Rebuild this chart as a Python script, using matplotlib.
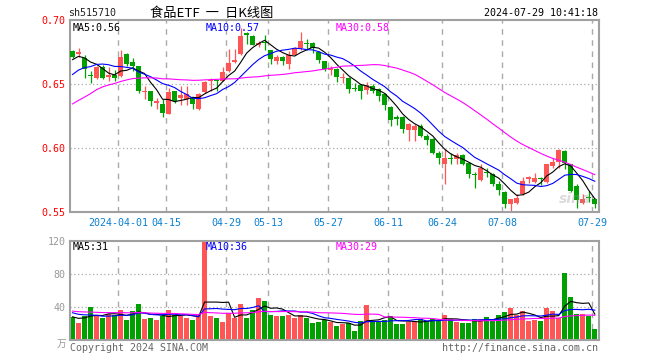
import numpy as np
import pandas as pd
import matplotlib
matplotlib.use('Agg')
import matplotlib.pyplot as plt

# daily candles, 2024-03-20 .. 2024-07-29 (88 trading days)
opens = [0.6756, 0.6735, 0.6704, 0.6568, 0.6548, 0.6633, 0.6553, 0.6568, 0.6560, 0.6735,
         0.6670, 0.6639, 0.6441, 0.6444, 0.6350, 0.6345, 0.6267, 0.6444, 0.6392, 0.6384,
         0.6392, 0.6306, 0.6438, 0.6522, 0.6532, 0.6527, 0.6600, 0.6672, 0.6735, 0.6899,
         0.6873, 0.6808, 0.6828, 0.6763, 0.6678, 0.6709, 0.6657, 0.6730, 0.6782, 0.6823,
         0.6820, 0.6748, 0.6678, 0.6613, 0.6620, 0.6548, 0.6548, 0.6469, 0.6490, 0.6457,
         0.6483, 0.6462, 0.6423, 0.6319, 0.6241, 0.6241, 0.6137, 0.6137, 0.6171, 0.6093,
         0.6074, 0.5963, 0.5872, 0.5924, 0.5911, 0.5944, 0.5882, 0.5799, 0.5747, 0.5814,
         0.5799, 0.5716, 0.5658, 0.5559, 0.5572, 0.5638, 0.5755, 0.5736, 0.5768, 0.5736,
         0.5856, 0.5892, 0.5976, 0.5872, 0.5703, 0.5567, 0.5617, 0.5598]
highs = [0.6763, 0.6782, 0.6724, 0.6600, 0.6639, 0.6652, 0.6631, 0.6612, 0.6769, 0.6743,
         0.6704, 0.6639, 0.6483, 0.6449, 0.6392, 0.6379, 0.6470, 0.6449, 0.6483, 0.6483,
         0.6400, 0.6431, 0.6522, 0.6548, 0.6535, 0.6631, 0.6774, 0.6776, 0.6938, 0.6906,
         0.6880, 0.6839, 0.6886, 0.6769, 0.6724, 0.6717, 0.6761, 0.6787, 0.6906, 0.6854,
         0.6828, 0.6756, 0.6683, 0.6639, 0.6626, 0.6584, 0.6553, 0.6506, 0.6501, 0.6516,
         0.6501, 0.6470, 0.6431, 0.6326, 0.6256, 0.6248, 0.6197, 0.6184, 0.6189, 0.6106,
         0.6080, 0.5976, 0.5989, 0.5963, 0.5963, 0.5950, 0.5893, 0.5815, 0.5877, 0.5846,
         0.5807, 0.5742, 0.5664, 0.5585, 0.5637, 0.5773, 0.5781, 0.5807, 0.5773, 0.5877,
         0.5924, 0.5989, 0.5981, 0.5877, 0.5716, 0.5637, 0.5663, 0.5611]
lows = [0.6706, 0.6709, 0.6548, 0.6509, 0.6542, 0.6540, 0.6522, 0.6522, 0.6553, 0.6639,
        0.6600, 0.6431, 0.6379, 0.6327, 0.6308, 0.6243, 0.6262, 0.6350, 0.6337, 0.6337,
        0.6308, 0.6300, 0.6431, 0.6449, 0.6449, 0.6522, 0.6594, 0.6665, 0.6730, 0.6813,
        0.6802, 0.6787, 0.6769, 0.6657, 0.6657, 0.6652, 0.6620, 0.6724, 0.6769, 0.6769,
        0.6743, 0.6665, 0.6600, 0.6568, 0.6516, 0.6506, 0.6430, 0.6449, 0.6386, 0.6418,
        0.6431, 0.6371, 0.6300, 0.6170, 0.6183, 0.6119, 0.6054, 0.6054, 0.6085, 0.6020,
        0.5955, 0.5872, 0.5722, 0.5877, 0.5872, 0.5867, 0.5768, 0.5687, 0.5742, 0.5773,
        0.5703, 0.5633, 0.5528, 0.5508, 0.5559, 0.5632, 0.5724, 0.5728, 0.5710, 0.5728,
        0.5846, 0.5846, 0.5836, 0.5659, 0.5533, 0.5559, 0.5575, 0.5528]
closes = [0.6711, 0.6748, 0.6620, 0.6560, 0.6631, 0.6548, 0.6568, 0.6548, 0.6711, 0.6657,
          0.6644, 0.6449, 0.6449, 0.6366, 0.6371, 0.6270, 0.6438, 0.6366, 0.6412, 0.6418,
          0.6345, 0.6423, 0.6516, 0.6535, 0.6522, 0.6594, 0.6665, 0.6688, 0.6873, 0.6886,
          0.6808, 0.6823, 0.6818, 0.6698, 0.6709, 0.6678, 0.6724, 0.6782, 0.6834, 0.6813,
          0.6782, 0.6691, 0.6620, 0.6626, 0.6553, 0.6558, 0.6464, 0.6459, 0.6449, 0.6496,
          0.6449, 0.6405, 0.6334, 0.6215, 0.6230, 0.6145, 0.6189, 0.6168, 0.6093, 0.6059,
          0.5963, 0.5918, 0.5918, 0.5913, 0.5944, 0.5872, 0.5799, 0.5788, 0.5846, 0.5804,
          0.5716, 0.5669, 0.5559, 0.5598, 0.5606, 0.5742, 0.5773, 0.5768, 0.5755, 0.5872,
          0.5892, 0.5983, 0.5885, 0.5664, 0.5591, 0.5598, 0.5606, 0.5559]
# volume, 万手
volumes = [28.3, 21.0, 29.5, 40.4, 30.3, 27.1, 31.1, 30.3, 36.4, 24.2,
           35.2, 43.6, 25.5, 27.1, 24.2, 29.1, 36.4, 30.3, 29.1, 27.1,
           24.2, 30.3, 119.2, 29.1, 27.1, 21.8, 32.3, 27.1, 43.6, 27.1,
           36.4, 51.3, 47.3, 30.3, 29.1, 29.1, 30.3, 27.1, 30.3, 27.1,
           20.2, 22.2, 24.2, 22.2, 17.3, 18.9, 20.2, 11.3, 23.0, 42.4,
           22.2, 23.4, 24.2, 29.1, 19.4, 19.4, 22.2, 22.2, 25.5, 23.0,
           25.5, 24.2, 30.3, 25.5, 22.2, 21.0, 21.0, 25.5, 25.5, 28.3,
           23.0, 30.3, 34.3, 39.1, 30.3, 35.2, 23.0, 24.2, 23.0, 39.1,
           35.2, 26.3, 81.6, 52.0, 31.0, 31.0, 29.1, 13.3]

# earlier sessions (before 03-20), only needed for the moving averages
pre_closes = [0.592, 0.585, 0.575, 0.570, 0.590, 0.612, 0.619, 0.625, 0.629, 0.633,
              0.634, 0.638, 0.636, 0.642, 0.646, 0.644, 0.648, 0.651, 0.646, 0.644,
              0.640, 0.643, 0.648, 0.646, 0.652, 0.662, 0.668, 0.672, 0.672]
pre_volumes = [42, 38, 45, 40, 36, 33, 30, 35, 32, 34,
               36, 33, 38, 31, 35, 37, 34, 39, 36, 36,
               40, 36, 42, 35, 37, 30, 27, 29, 26]

tick_idx = [8, 16, 26, 33, 43, 53, 62, 72, 87]
tick_labels = ['2024-04-01', '04-15', '04-29', '05-13', '05-27', '06-11', '06-24', '07-08', '07-29']

RED = '#ff5555'
GREEN = '#00a000'
GRID = '#aaaaaa'
MA_COLORS = {5: 'black', 10: '#0000ff', 30: '#ff00ff'}

o = np.array(opens); h = np.array(highs); l = np.array(lows); c = np.array(closes)
v = np.array(volumes)
n = len(c)
x = np.arange(n)
npre = len(pre_closes)
all_c = pd.Series(pre_closes + closes)
all_v = pd.Series(pre_volumes + volumes)
ma_p = {k: all_c.rolling(k).mean().values[npre:] for k in (5, 10, 30)}
ma_v = {k: all_v.rolling(k).mean().values[npre:] for k in (5, 10, 30)}

up = c >= o
colors = np.where(up, RED, GREEN)

plt.rcParams['font.family'] = ['DejaVu Sans Mono', 'Noto Sans CJK SC']
fig = plt.figure(figsize=(6.6, 3.6), dpi=100)
W, H = 660, 360
L, R = 70, 599
ax = fig.add_axes([L / W, 1 - 212 / H, (R - L) / W, 192 / H])
axv = fig.add_axes([L / W, 1 - 340 / H, (R - L) / W, 99 / H])

xlim = (-0.42, 87.7)
grid_x = [t - 0.4 for t in tick_idx]

for a in (ax, axv):
    a.set_xlim(*xlim)
    for s in a.spines.values():
        s.set_color('#a0a0a0')
        s.set_linewidth(1.5)
    a.tick_params(length=0)
    for gx in grid_x:
        a.axvline(gx, color=GRID, lw=1, dashes=(4, 4), zorder=0)

# price panel
ax.set_ylim(0.55, 0.70)
for gy in (0.60, 0.65):
    ax.axhline(gy, color=GRID, lw=0.9, ls=(0, (1, 2)), zorder=0)
body_b = np.minimum(o, c)
body_h = np.maximum(np.abs(c - o), 0.0004)
ax.vlines(x, l, h, colors=colors, lw=0.9, zorder=2)
ax.bar(x, body_h, bottom=body_b, width=0.8, color=colors, lw=0, zorder=3)
for k, col in MA_COLORS.items():
    ax.plot(x, ma_p[k], color=col, lw=0.8, zorder=4)
ax.set_yticks([0.55, 0.60, 0.65, 0.70])
ax.set_yticklabels(['0.55', '0.60', '0.65', '0.70'], color='red', fontsize=7.2)
ax.tick_params(axis='y', pad=3)
ax.set_xticks(grid_x)
ax.set_xticklabels(tick_labels, color='#0a80d0', fontsize=7.2)
ax.tick_params(axis='x', pad=4)
ax.text(0.005, 0.985, 'MA5:%.2f' % ma_p[5][-1], transform=ax.transAxes, va='top',
        fontsize=7.2, color=MA_COLORS[5])
ax.text(0.257, 0.985, 'MA10:%.2f' % ma_p[10][-1], transform=ax.transAxes, va='top',
        fontsize=7.2, color=MA_COLORS[10])
ax.text(0.503, 0.985, 'MA30:%.2f' % ma_p[30][-1], transform=ax.transAxes, va='top',
        fontsize=7.2, color=MA_COLORS[30])
ax.text(0.985, 0.03, 'sina', transform=ax.transAxes, ha='right', va='bottom',
        fontsize=10, color='#999999', alpha=0.35, style='italic', weight='bold',
        family='DejaVu Sans')

# volume panel
axv.set_ylim(0, 120)
for gy in (40, 80):
    axv.axhline(gy, color=GRID, lw=0.9, ls=(0, (1, 2)), zorder=0)
axv.bar(x, v, width=0.8, color=colors, lw=0, zorder=2)
for k, col in MA_COLORS.items():
    axv.plot(x, ma_v[k], color=col, lw=0.8, zorder=3)
axv.set_yticks([40, 80, 120])
axv.set_yticklabels(['40', '80', '120'], color='#999999', fontsize=7.2)
axv.tick_params(axis='y', pad=3)
axv.set_xticks([])
axv.text(0.005, 0.985, 'MA5:%d' % int(ma_v[5][-1]), transform=axv.transAxes, va='top',
         fontsize=7.2, color=MA_COLORS[5])
axv.text(0.257, 0.985, 'MA10:%d' % int(ma_v[10][-1]), transform=axv.transAxes, va='top',
         fontsize=7.2, color=MA_COLORS[10])
axv.text(0.503, 0.985, 'MA30:%d' % int(ma_v[30][-1]), transform=axv.transAxes, va='top',
         fontsize=7.2, color=MA_COLORS[30])

# header / footer
fig.text(68 / W, 1 - 13 / H, 'sh515710', fontsize=7.2, va='center', color='#222222')
fig.text(150 / W, 1 - 13 / H, '食品ETF  一  日K线图', fontsize=9.5, va='center',
         family=['Noto Sans CJK SC', 'DejaVu Sans'])
fig.text(598 / W, 1 - 13 / H, '2024-07-29 10:41:18', fontsize=7.2, va='center', ha='right')
fig.text(66 / W, 1 - 344 / H, '万', fontsize=7, va='center', ha='right', color='#999999',
         family=['Noto Sans CJK SC', 'DejaVu Sans'])
fig.text(70 / W, 1 - 348 / H, 'Copyright 2024 SINA.COM', fontsize=7.2, va='center',
         color='#666666')
fig.text(598 / W, 1 - 348 / H, 'http://finance.sina.com.cn', fontsize=7.2, va='center',
         ha='right', color='#666666')

fig.savefig('out.png', dpi=100, facecolor='white')
